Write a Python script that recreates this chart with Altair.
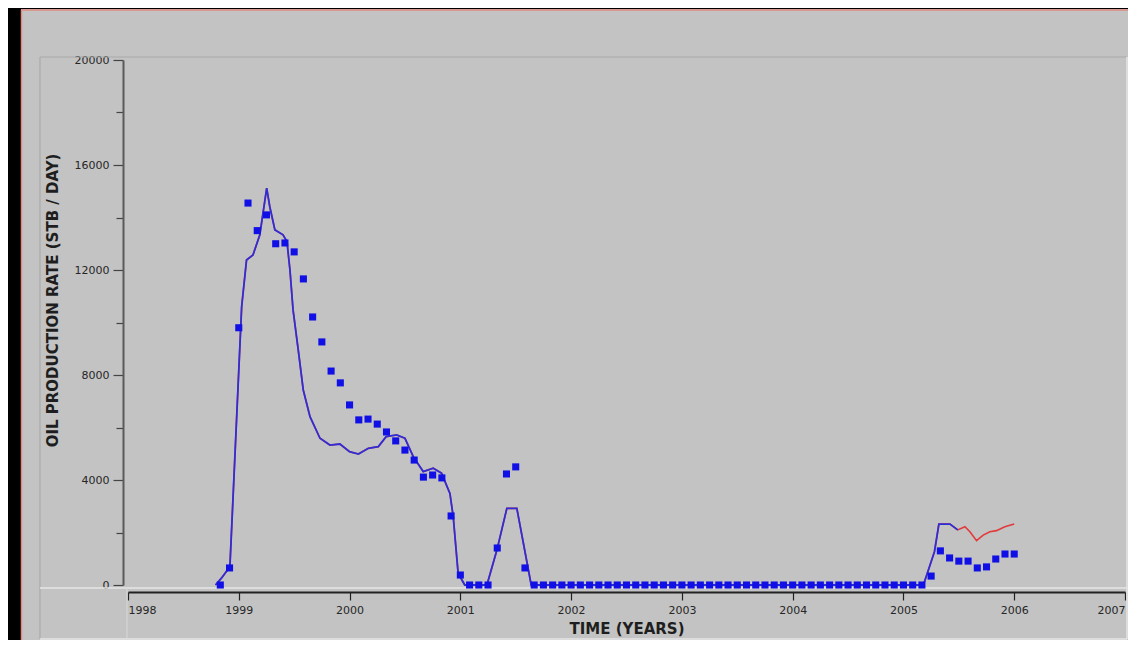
import altair as alt
import pandas as pd

# ---------------- data ----------------
obs_months = [
    "1998-11", "1998-12",
    "1999-01", "1999-02", "1999-03", "1999-04", "1999-05", "1999-06",
    "1999-07", "1999-08", "1999-09", "1999-10", "1999-11", "1999-12",
    "2000-01", "2000-02", "2000-03", "2000-04", "2000-05", "2000-06",
    "2000-07", "2000-08", "2000-09", "2000-10", "2000-11", "2000-12",
    "2001-01", "2001-02", "2001-03", "2001-04", "2001-05", "2001-06",
    "2001-07", "2001-08", "2001-09", "2001-10", "2001-11", "2001-12",
    "2002-01", "2002-02", "2002-03", "2002-04", "2002-05", "2002-06",
    "2002-07", "2002-08", "2002-09", "2002-10", "2002-11", "2002-12",
    "2003-01", "2003-02", "2003-03", "2003-04", "2003-05", "2003-06",
    "2003-07", "2003-08", "2003-09", "2003-10", "2003-11", "2003-12",
    "2004-01", "2004-02", "2004-03", "2004-04", "2004-05", "2004-06",
    "2004-07", "2004-08", "2004-09", "2004-10", "2004-11", "2004-12",
    "2005-01", "2005-02", "2005-03", "2005-04", "2005-05", "2005-06",
    "2005-07", "2005-08", "2005-09", "2005-10", "2005-11", "2005-12",
    "2006-01",
]
obs_rate = [
    0, 650,
    9800, 14550, 13500, 14100, 13000, 13030,
    12690, 11660, 10210, 9260, 8150, 7700,
    6860, 6290, 6320, 6130, 5830, 5490,
    5140, 4760, 4110, 4190, 4080, 2630,
    380, 0, 0, 0, 1410, 4230,
    4500, 650, 0, 0, 0, 0,
    0, 0, 0, 0, 0, 0,
    0, 0, 0, 0, 0, 0,
    0, 0, 0, 0, 0, 0,
    0, 0, 0, 0, 0, 0,
    0, 0, 0, 0, 0, 0,
    0, 0, 0, 0, 0, 0,
    0, 0, 0, 340, 1300, 1030,
    910, 910, 650, 690, 990, 1180,
    1180,
]

# simulated rate (blue), history part
blue_time = [1998.79, 1998.845, 1998.92, 1999.026, 1999.07, 1999.128, 1999.19,
             1999.252, 1999.28, 1999.326, 1999.399, 1999.435, 1999.462, 1999.49,
             1999.537, 1999.582, 1999.643, 1999.733, 1999.823, 1999.913, 2000.0,
             2000.08, 2000.17, 2000.26, 2000.33, 2000.425, 2000.5, 2000.575,
             2000.665, 2000.755, 2000.83, 2000.906, 2000.936, 2000.98, 2001.04,
             2001.24, 2001.33, 2001.42, 2001.51, 2001.64, 2005.18, 2005.28,
             2005.32, 2005.42, 2005.49]
blue_rate = [0, 270, 700, 10600, 12380, 12570, 13340,
             15120, 14410, 13530, 13340, 13080, 12000, 10480,
             8950, 7430, 6410, 5590, 5330, 5370, 5080,
             4990, 5210, 5270, 5650, 5715, 5590, 4890,
             4320, 4450, 4260, 3490, 2600, 450, 0,
             0, 1330, 2920, 2920, 0, 0, 1270,
             2320, 2320, 2100]

# second simulated case (red) - coincides with blue, continues to 2006
red_tail_time = [2005.555, 2005.6, 2005.66, 2005.72, 2005.78, 2005.84, 2005.915, 2006.0]
red_tail_rate = [2220, 2030, 1690, 1900, 2030, 2070, 2220, 2320]
red_time = blue_time + red_tail_time
red_rate = blue_rate + red_tail_rate

year_ticks = [1998 + 0.5 * i for i in range(19)]
rate_ticks = [2000 * i for i in range(11)]

# ---------------- tables ----------------
def to_year(s):
    y, m = s.split("-")
    return int(y) + (int(m) - 1) / 12.0

obs_df = pd.DataFrame({"t": [to_year(s) for s in obs_months], "rate": obs_rate})
blue_df = pd.DataFrame({"t": blue_time, "rate": blue_rate, "o": range(len(blue_time))})
red_df = pd.DataFrame({"t": red_time, "rate": red_rate, "o": range(len(red_time))})

FONT = "DejaVu Sans"
BG = "#c3c3c3"

x_enc = alt.X(
    "t:Q",
    scale=alt.Scale(domain=[1998, 2007], nice=False, zero=False),
    axis=alt.Axis(
        values=year_ticks,
        format="d",
        labelExpr="datum.value % 1 === 0 ? datum.label : ''",
        labelFlush=True,
        labelFont=FONT,
        labelFontSize=11,
        labelColor="#262626",
        labelPadding=4,
        tickSize={"condition": {"test": "datum.value % 1 === 0", "value": 8}, "value": 4},
        tickColor="#222222",
        tickWidth=1.2,
        domainColor="#222222",
        domainWidth=2,
        offset=7,
        grid=False,
        title="TIME (YEARS)",
        titleFont=FONT,
        titleFontSize=15,
        titleFontWeight="bold",
        titleColor="#1e1e1e",
        titleBaseline="middle",
        titleY=36,
    ),
)
y_enc = alt.Y(
    "rate:Q",
    scale=alt.Scale(domain=[0, 20000], nice=False),
    axis=alt.Axis(
        values=rate_ticks,
        format="d",
        labelExpr="datum.value % 4000 === 0 ? datum.label : ''",
        labelFont=FONT,
        labelFontSize=11,
        labelColor="#262626",
        labelPadding=4,
        tickSize={"condition": {"test": "datum.value % 4000 === 0", "value": 10}, "value": 7},
        tickColor="#444444",
        tickWidth=1.2,
        domainColor="#5a5a5a",
        domainWidth=2,
        offset=5,
        grid=False,
        title="OIL PRODUCTION RATE (STB / DAY)",
        titleFont=FONT,
        titleFontSize=15,
        titleFontWeight="bold",
        titleColor="#1e1e1e",
        titleAngle=270,
        titleBaseline="middle",
        titleAlign="center",
        titleX=-71,
        titleY=240,
    ),
)

red_line = alt.Chart(red_df).mark_line(color="#e23a3a", strokeWidth=1.6).encode(
    x=x_enc, y=y_enc, order="o:Q")
blue_line = alt.Chart(blue_df).mark_line(color="#2e2ed6", strokeWidth=1.8).encode(
    x=x_enc, y=y_enc, order="o:Q")
dots = alt.Chart(obs_df).mark_square(color="#1010e6", size=50, opacity=1).encode(
    x=x_enc, y=y_enc)

# ---------------- decorative frame of the original screenshot ----------------
one = pd.DataFrame({"a": [0]})

def rule(x1, x2, y1, y2, color, w=1.0):
    return alt.Chart(one).mark_rule(color=color, strokeWidth=w).encode(
        x=alt.value(x1), x2=alt.value(x2), y=alt.value(y1), y2=alt.value(y2))

black_left = alt.Chart(one).mark_rect(color="black").encode(
    x=alt.value(-125), x2=alt.value(-107), y=alt.value(-60), y2=alt.value(582))
black_top = alt.Chart(one).mark_rect(color="black").encode(
    x=alt.value(-125), x2=alt.value(1010), y=alt.value(-60), y2=alt.value(-51))
frame = [
    black_left,
    black_top,
    rule(-106.5, -106.5, -50, 582, "#e08a80", 1.5),
    rule(-107, 1010, -50, -50, "#e08a80", 1.5),
    rule(-88, 999, -3, -3, "#a9a9a9", 1.2),
    rule(-88, -88, -3, 579, "#a9a9a9", 1.2),
    rule(-88, 999, 528, 528, "#e6e6e6", 1.5),
    rule(999, 999, -3, 579, "#e6e6e6", 1.5),
    rule(-88, 999, 579, 579, "#e6e6e6", 1.5),
    rule(-1, -1, 528, 579, "#d8d8d8", 1.0),
]

chart = alt.layer(*frame, red_line, blue_line, dots).properties(
    width=997,
    height=525,
    padding={"left": 120, "top": 52, "right": 3, "bottom": 55},
    autosize=alt.AutoSizeParams(type="none"),
    background=BG,
).configure_view(strokeWidth=0)

chart.save("out.html", embed_options={"renderer": "svg", "actions": False})
